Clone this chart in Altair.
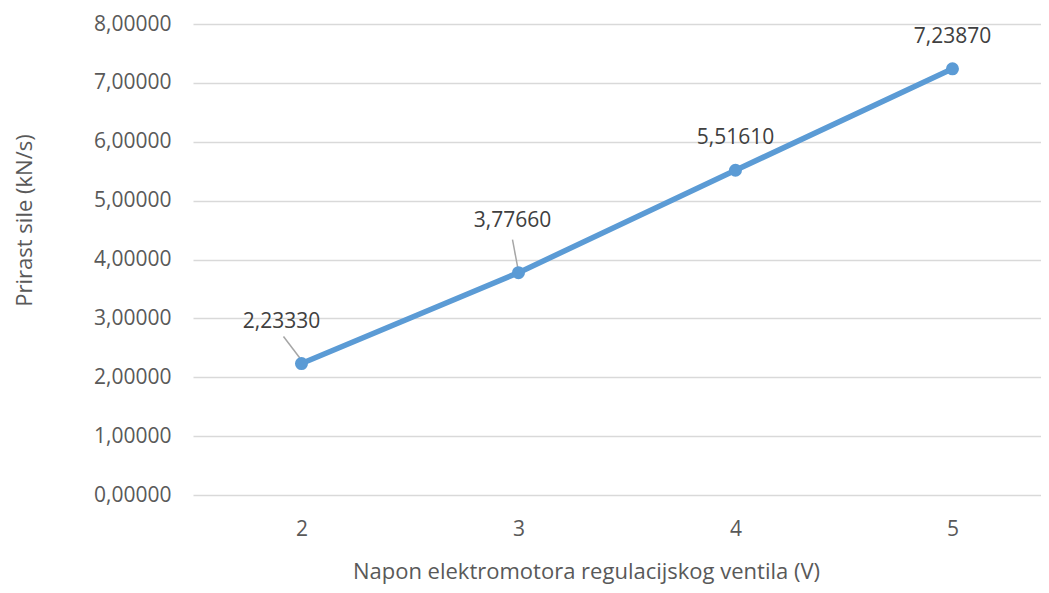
import altair as alt
import pandas as pd

voltage = [2, 3, 4, 5]
force_rate = [2.23330, 3.77660, 5.51610, 7.23870]
x_ticks = [2, 3, 4, 5]
y_ticks = [0, 1, 2, 3, 4, 5, 6, 7, 8]

df = pd.DataFrame({"V": voltage, "F": force_rate})

FONT = "Open Sans"
BLUE = "#5B9BD5"
FS = 21
TFS = 22

x_scale = alt.Scale(domain=[1.5, 5.408], nice=False, zero=False)
y_scale = alt.Scale(domain=[0, 8], nice=False)

x_enc = alt.X(
    "V:Q",
    scale=x_scale,
    axis=alt.Axis(
        values=x_ticks, format="d", grid=False, domain=False, ticks=False,
        labelFont=FONT, labelFontSize=FS, labelColor="#595959", labelPadding=23,
        title="Napon elektromotora regulacijskog ventila (V)",
        titleFont=FONT, titleFontSize=TFS, titleFontWeight="normal", titleColor="#595959",
        titleX=393, titleY=76, titleAnchor="middle", titleAlign="center", titleBaseline="middle",
    ),
)
y_enc = alt.Y(
    "F:Q",
    scale=y_scale,
    axis=alt.Axis(
        values=y_ticks, grid=True, gridColor="#D9D9D9", gridWidth=1.5,
        domain=False, ticks=False,
        labelExpr="replace(format(datum.value, '.5f'), '.', ',')",
        labelFont=FONT, labelFontSize=FS, labelColor="#595959", labelPadding=22,
        title="Prirast sile (kN/s)",
        titleFont=FONT, titleFontSize=TFS, titleFontWeight="normal", titleColor="#595959",
        titleX=-169, titleY=196, titleAngle=-90, titleAlign="center", titleBaseline="middle",
    ),
)

base = alt.Chart(df).encode(x=x_enc, y=y_enc)

line = base.mark_line(color=BLUE, strokeWidth=5.5)
points = base.mark_circle(color=BLUE, size=170, opacity=1)

label_expr = "replace(format(datum.F, '.5f'), '.', ',')"
text_props = dict(font=FONT, fontSize=FS, color="#404040", align="center", baseline="middle")

lbl2 = base.transform_filter("datum.V == 2").transform_calculate(lab=label_expr).mark_text(
    dx=-20, dy=-42, **text_props).encode(text="lab:N")
lbl3 = base.transform_filter("datum.V == 3").transform_calculate(lab=label_expr).mark_text(
    dx=-6, dy=-52, **text_props).encode(text="lab:N")
lbl45 = base.transform_filter("datum.V >= 4").transform_calculate(lab=label_expr).mark_text(
    dy=-32, **text_props).encode(text="lab:N")

lead2 = base.transform_filter("datum.V == 2").mark_rule(
    color="#A6A6A6", strokeWidth=1.5, xOffset=-18, yOffset=-27, x2Offset=1, y2Offset=-2
).encode(x2="V:Q", y2="F:Q")
lead3 = base.transform_filter("datum.V == 3").mark_rule(
    color="#A6A6A6", strokeWidth=1.5, xOffset=-6, yOffset=-33, x2Offset=0, y2Offset=-1
).encode(x2="V:Q", y2="F:Q")

chart = alt.layer(line, lead2, lead3, points, lbl2, lbl3, lbl45).properties(
    width=848, height=471,
    background="white",
    autosize=alt.AutoSizeParams(type="none"),
    padding={"left": 185, "top": 16, "right": 0, "bottom": 90},
).configure_view(stroke=None)

chart.save("out.html", embed_options={"renderer": "svg", "actions": False})
